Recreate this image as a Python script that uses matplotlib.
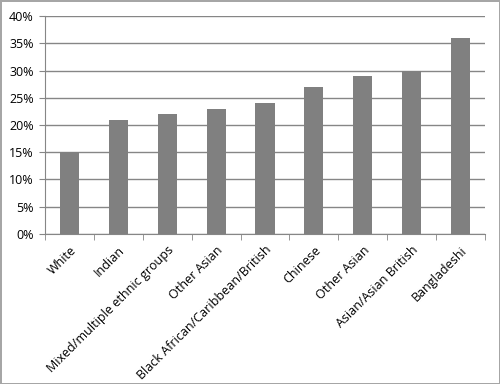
import matplotlib
matplotlib.use('Agg')
import matplotlib.pyplot as plt
from matplotlib.ticker import PercentFormatter, FixedLocator

categories = ['White', 'Indian', 'Mixed/multiple ethnic groups', 'Other Asian',
              'Black African/Caribbean/British', 'Chinese', 'Other Asian',
              'Asian/Asian British', 'Bangladeshi']
values = [15, 21, 22, 23, 24, 27, 29, 30, 36]
yticks = [0, 5, 10, 15, 20, 25, 30, 35, 40]

plt.rcParams['font.family'] = ['Open Sans', 'DejaVu Sans']

fig = plt.figure(figsize=(5, 3.84), dpi=100)
fig.patch.set_edgecolor('#a6a6a6')
fig.patch.set_linewidth(2)
ax = fig.add_axes([0.09, 0.391, 0.88, 0.567])

x = list(range(len(categories)))
ax.bar(x, values, width=0.39, color='#808080', zorder=3)

ax.set_ylim(0, 40)
ax.set_xlim(-0.5, len(categories) - 0.5)
ax.set_yticks(yticks)
ax.yaxis.set_major_formatter(PercentFormatter(decimals=0))
ax.grid(axis='y', color='#868686', linewidth=1, zorder=0)

for s in ['top', 'right']:
    ax.spines[s].set_visible(False)
ax.spines['left'].set_color('#868686')
ax.spines['bottom'].set_color('#868686')

ax.set_xticks(x)
ax.set_xticklabels(categories, rotation=45, ha='right', rotation_mode='anchor', fontsize=9)
ax.tick_params(axis='x', length=0, pad=7)
ax.xaxis.set_minor_locator(FixedLocator([i - 0.5 for i in range(len(categories) + 1)]))
ax.tick_params(axis='x', which='minor', length=4, color='#868686')
ax.tick_params(axis='y', length=4, color='#868686', labelsize=9, pad=4)

fig.savefig('out.png', dpi=100)
